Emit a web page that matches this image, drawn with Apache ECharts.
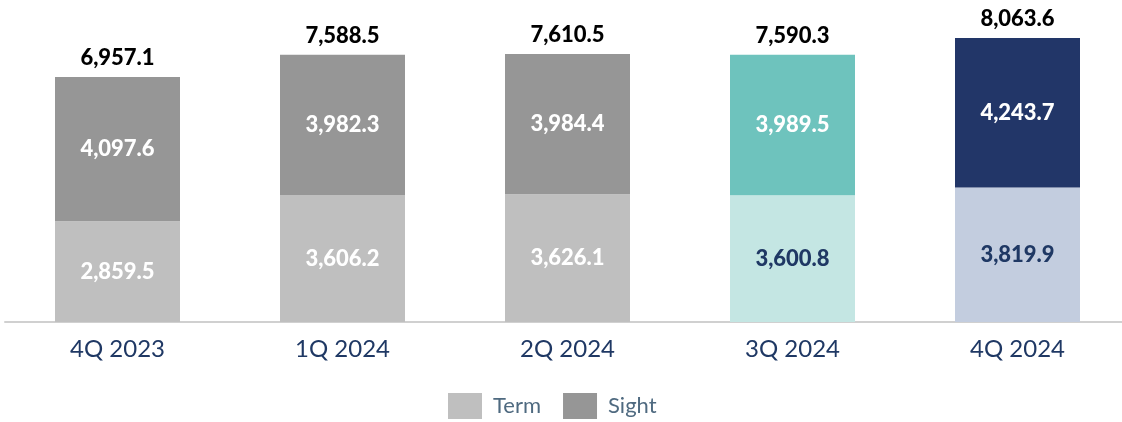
<!DOCTYPE html>
<html>
<head>
<meta charset="utf-8">
<script src="https://cdn.jsdelivr.net/npm/echarts@6/dist/echarts.min.js"></script>
<style>
  html, body { margin: 0; padding: 0; background: #fff; }
  #chart { width: 1122px; height: 422px; }
</style>
</head>
<body>
<div id="chart"></div>
<script>
// Deposits by quarter, split into term and sight
const quarters = ['4Q 2023', '1Q 2024', '2Q 2024', '3Q 2024', '4Q 2024'];
const termValues = [2859.5, 3606.2, 3626.1, 3600.8, 3819.9];
const sightValues = [4097.6, 3982.3, 3984.4, 3989.5, 4243.7];

// Bar colours per quarter (older quarters grey, latest two highlighted)
const termColors = ['#BFBFBF', '#BFBFBF', '#BFBFBF', '#C4E6E3', '#C3CDDF'];
const sightColors = ['#969696', '#969696', '#969696', '#6EC3BD', '#223668'];
const termLabelColors = ['#FFFFFF', '#FFFFFF', '#FFFFFF', '#1F3864', '#1F3864'];
const sightLabelColors = ['#FFFFFF', '#FFFFFF', '#FFFFFF', '#FFFFFF', '#FFFFFF'];

const FONT = 'Lato, "Open Sans", sans-serif';
const fmt = v => v.toLocaleString('en-US', { minimumFractionDigits: 1, maximumFractionDigits: 1 });
const totals = termValues.map((t, i) => Math.round((t + sightValues[i]) * 10) / 10);

const chart = echarts.init(document.getElementById('chart'), null, { renderer: 'canvas' });

const segLabel = {
  show: true,
  position: 'inside',
  fontFamily: FONT,
  fontWeight: 900,
  fontSize: 22,
  formatter: p => fmt(p.value)
};

chart.setOption({
  animation: false,
  grid: { left: 5, top: 5, right: -8, height: 317, containLabel: false, outerBoundsMode: 'none' },
  legend: {
    data: ['Term', 'Sight'],
    bottom: 3,
    left: 448,
    padding: 0,
    itemWidth: 34,
    itemHeight: 26,
    itemGap: 22,
    icon: 'rect',
    textStyle: { color: '#4F6A80', fontSize: 22, fontFamily: FONT, padding: [0, 0, 0, 6] }
  },
  xAxis: {
    type: 'category',
    data: quarters,
    axisLine: { lineStyle: { color: '#D0D0D0', width: 2 } },
    axisTick: { show: false },
    axisLabel: { color: '#1F3864', fontSize: 24, fontFamily: FONT, margin: 15 }
  },
  yAxis: {
    type: 'value',
    min: 0,
    max: 9000,
    show: false,
    splitLine: { show: false }
  },
  series: [
    {
      name: 'Term',
      type: 'bar',
      stack: 'deposits',
      barWidth: 125,
      itemStyle: { color: '#BFBFBF' },
      data: termValues.map((v, i) => ({
        value: v,
        itemStyle: { color: termColors[i] },
        label: Object.assign({}, segLabel, { color: termLabelColors[i] })
      }))
    },
    {
      name: 'Sight',
      type: 'bar',
      stack: 'deposits',
      barWidth: 125,
      itemStyle: { color: '#969696' },
      data: sightValues.map((v, i) => ({
        value: v,
        itemStyle: { color: sightColors[i] },
        label: Object.assign({}, segLabel, { color: sightLabelColors[i] })
      }))
    },
    {
      name: 'Total',
      type: 'bar',
      stack: 'deposits',
      barWidth: 125,
      itemStyle: { color: 'transparent' },
      data: totals.map(() => 0),
      label: {
        show: true,
        position: 'top',
        distance: 8,
        color: '#000000',
        fontFamily: FONT,
        fontWeight: 900,
        fontSize: 22,
        formatter: p => fmt(totals[p.dataIndex])
      }
    }
  ]
});
</script>
</body>
</html>
